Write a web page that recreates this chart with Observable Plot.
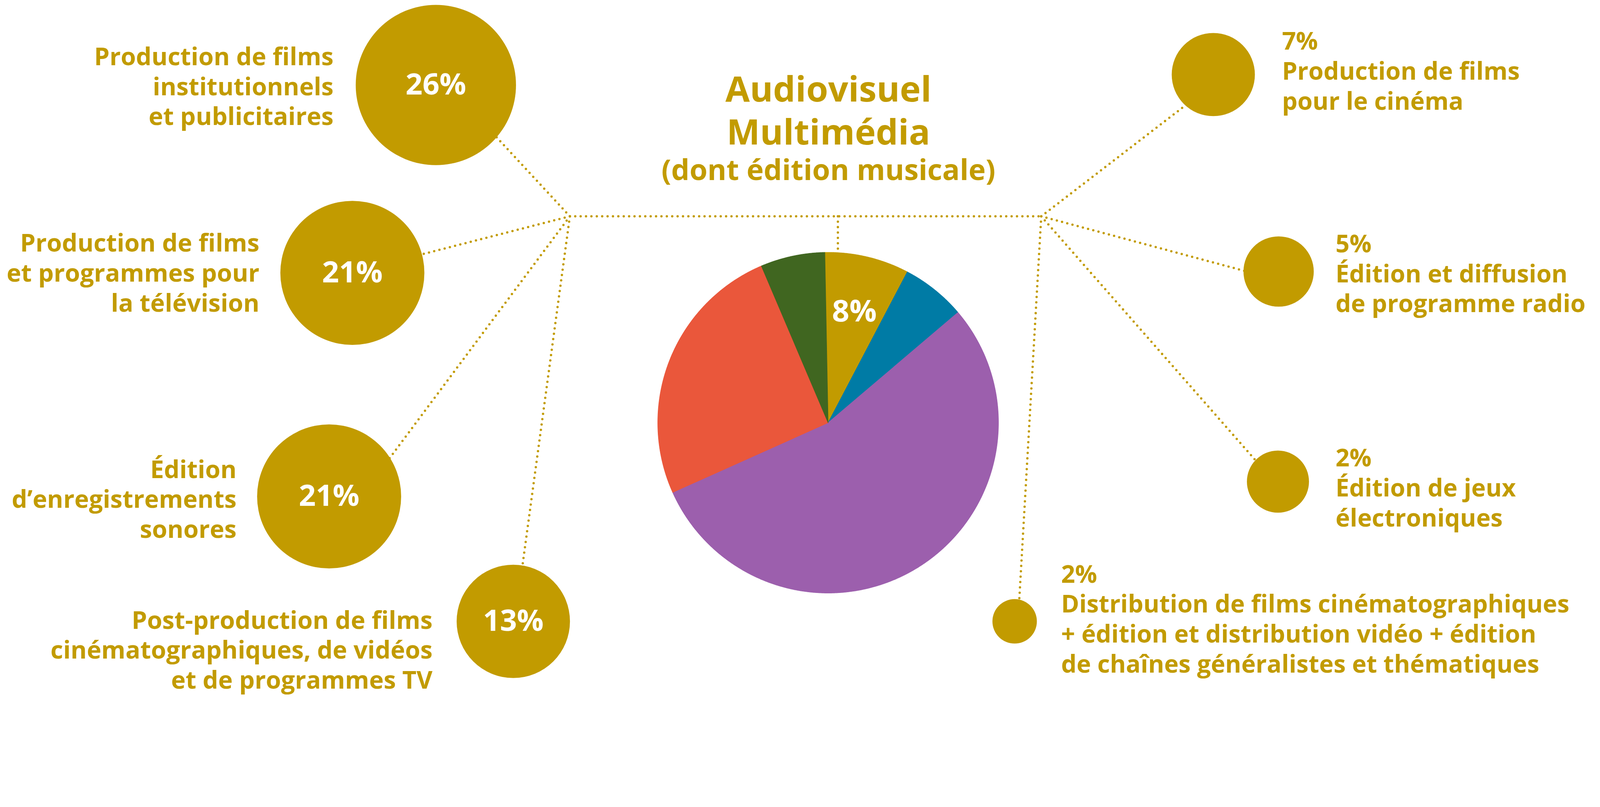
<!DOCTYPE html>
<html><head><meta charset="utf-8">
<script src="https://cdn.jsdelivr.net/npm/d3@7"></script>
<script src="https://cdn.jsdelivr.net/npm/@observablehq/plot@0.6"></script>
<style>
html,body{margin:0;padding:0;background:#fff;overflow:hidden}
#chart svg{display:block}
</style>
</head><body><div id="chart"></div>
<script>
// ---------- DATA ----------
const categories = [
  "Production de films\ninstitutionnels\net publicitaires",
  "Production de films\net programmes pour\nla télévision",
  "Édition\nd’enregistrements\nsonores",
  "Post-production de films\ncinématographiques, de vidéos\net de programmes TV",
  "Production de films\npour le cinéma",
  "Édition et diffusion\nde programme radio",
  "Édition de jeux\nélectroniques",
  "Distribution de films cinématographiques\n+ édition et distribution vidéo + édition\nde chaînes généralistes et thématiques"
];
const shares = [26, 21, 21, 13, 7, 5, 2, 2];           // labelled shares (%)
const bubbleShares = [26, 21, 21, 13, 7, 5, 3.9, 2];   // share implied by each drawn bubble area
const sides = ["left", "left", "left", "left", "right", "right", "right", "right"];

const pieSectors = ["Audiovisuel Multimédia", "Secteur B", "Secteur C", "Secteur D", "Secteur E"];
const pieShares = [8, 6.1, 54.5, 25.3, 6.1];
const pieLabels = ["8%", "", "", "", ""];

const titleLines = "Audiovisuel\nMultimédia";
const subtitle = "(dont édition musicale)";

// ---------- LAYOUT / STYLE ----------
const W = 4752, H = 2066;
const bubbleX = [1294, 1046, 977, 1524, 3603, 3797, 3795, 3013];
const bubbleY = [252, 810, 1474, 1845, 221, 806, 1430, 1845];
const anchorDeg = [40, -15, -30, -80.5, 131, 180, 223, -77];
const labelX = [990, 770, 702, 1284, 3807, 3966, 3966, 3151];
const labelBaseline = [371, 925, 1597, 2045, 325, 927, 1563, 1997];
const hubL = [1692, 642], hubR = [3092, 642];
const pieC = [2459, 1255], pieR = 506, pieStartDeg = -1.1, pieLinkX = 2488;
const R_MAX = 238, SHARE_MAX = 26;
const gold = "#C29B00";
const pieColors = ["#C29B00", "#007BA5", "#9C5FAD", "#EA573B", "#406620"];
const font = "Open Sans";

const rPx = v => R_MAX * Math.sqrt(v / SHARE_MAX);

const bubbles = categories.map((c, i) => ({
  cat: c, share: shares[i], area: bubbleShares[i], side: sides[i],
  cx: bubbleX[i], cy: bubbleY[i], lx: labelX[i], ly: labelBaseline[i],
  hx: sides[i] === "left" ? hubL[0] : hubR[0], hy: sides[i] === "left" ? hubL[1] : hubR[1],
  ax: bubbleX[i] + 0.9 * rPx(bubbleShares[i]) * Math.cos(anchorDeg[i] * Math.PI / 180),
  ay: bubbleY[i] + 0.9 * rPx(bubbleShares[i]) * Math.sin(anchorDeg[i] * Math.PI / 180)
}));
const left = bubbles.filter(d => d.side === "left");
const right = bubbles.filter(d => d.side === "right");

// pie geometry from d3.pie
const toRad = d => d * Math.PI / 180;
const arcs = d3.pie().sort(null).value(d => d.share)
  .startAngle(toRad(pieStartDeg)).endAngle(toRad(pieStartDeg + 360))
  (pieSectors.map((s, i) => ({sector: s, share: pieShares[i], label: pieLabels[i]})));
const piePoints = arcs.flatMap(a => {
  const s = a.data.sector;
  const n = Math.max(4, Math.ceil((a.endAngle - a.startAngle) / (Math.PI / 720)));
  const pts = [{sector: s, x: pieC[0], y: pieC[1]}];
  for (let k = 0; k <= n; ++k) {
    const t = a.startAngle + (a.endAngle - a.startAngle) * k / n;
    pts.push({sector: s, x: pieC[0] + pieR * Math.sin(t), y: pieC[1] - pieR * Math.cos(t)});
  }
  pts.push({sector: s, x: pieC[0], y: pieC[1]});
  return pts;
});
const pieLabelData = arcs.filter(a => a.data.label).map(a => {
  const m = (a.startAngle + a.endAngle) / 2;
  return {label: a.data.label, x: pieC[0] + 0.67 * pieR * Math.sin(m), y: pieC[1] - 0.67 * pieR * Math.cos(m)};
});

const dotted = {stroke: gold, strokeWidth: 7, strokeDasharray: "0,16", strokeLinecap: "round"};

const chart = Plot.plot({
  width: W, height: H,
  margin: 0,
  style: {fontFamily: font, background: "#fff"},
  x: {domain: [0, W], range: [0, W], axis: null},
  y: {domain: [0, H], range: [0, H], axis: null},
  r: {type: "sqrt", domain: [0, SHARE_MAX], range: [0, R_MAX]},
  color: {domain: pieSectors, range: pieColors},
  marks: [
    // connectors
    Plot.link([hubL], {x1: d => d[0], y1: d => d[1], x2: () => hubR[0], y2: () => hubR[1], ...dotted}),
    Plot.link([pieLinkX], {x1: d => d, y1: () => hubL[1], x2: d => d,
      y2: d => pieC[1] - Math.sqrt(pieR * pieR - (d - pieC[0]) ** 2) + 6, ...dotted}),
    Plot.link(bubbles, {x1: "hx", y1: "hy", x2: "ax", y2: "ay", ...dotted}),
    // pie
    Plot.line(piePoints, {x: "x", y: "y", z: "sector", fill: "sector", stroke: "sector", strokeWidth: 1.5, curve: "linear"}),
    Plot.text(pieLabelData, {x: "x", y: "y", text: "label", fill: "white", fontSize: 90, fontWeight: 700, fontFamily: font}),
    // bubbles
    Plot.dot(bubbles, {x: "cx", y: "cy", r: "area", fill: gold, stroke: null}),
    Plot.text(left, {x: "cx", y: "cy", text: d => `${d.share}%`, fill: "white", fontSize: 88, fontWeight: 700, fontFamily: font}),
    // labels
    Plot.text(left, {x: "lx", y: "ly", text: "cat", textAnchor: "end", lineAnchor: "bottom", lineHeight: 89 / 73,
      fill: gold, fontSize: 73, fontWeight: 700, fontFamily: font}),
    Plot.text(right, {x: "lx", y: "ly", text: d => `${d.share}%\n${d.cat}`, textAnchor: "start", lineAnchor: "bottom", lineHeight: 89 / 72.5,
      fill: gold, fontSize: 72.5, fontWeight: 700, fontFamily: font}),
    // title
    Plot.text([titleLines], {x: () => 2460, y: () => 429, text: d => d, lineAnchor: "bottom", lineHeight: 128 / 105,
      fill: gold, fontSize: 105, fontWeight: 700, fontFamily: font}),
    Plot.text([subtitle], {x: () => 2460, y: () => 534, text: d => d, lineAnchor: "bottom",
      fill: gold, fontSize: 86, fontWeight: 700, fontFamily: font})
  ]
});
document.getElementById("chart").appendChild(chart);
</script>
</body></html>
